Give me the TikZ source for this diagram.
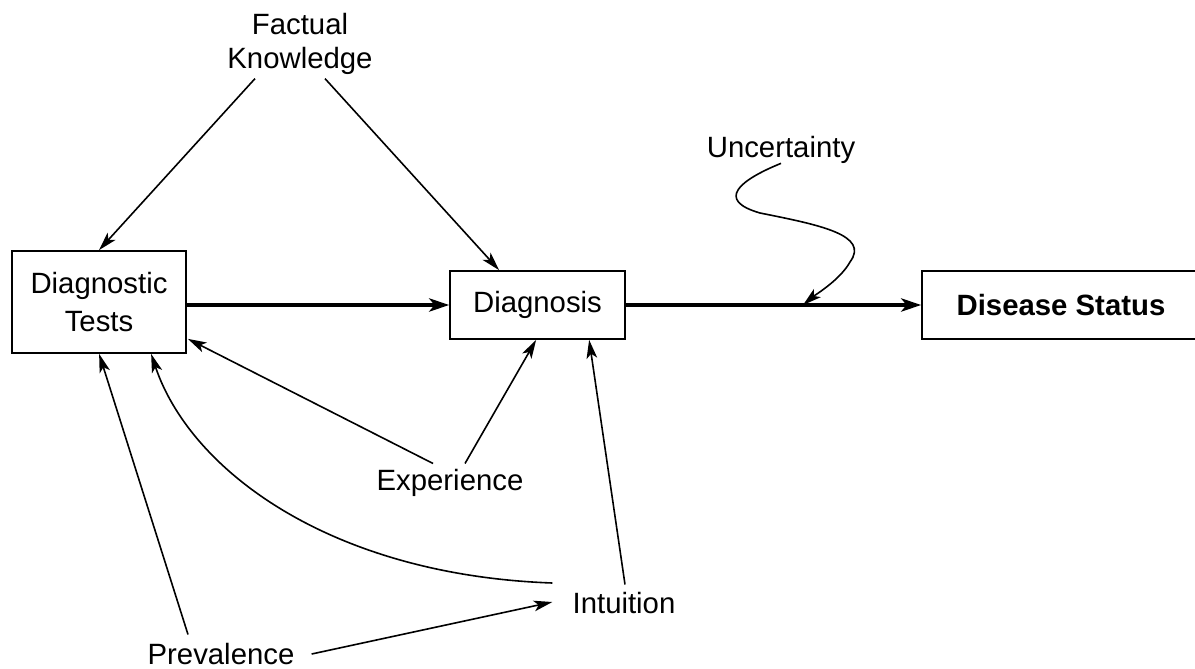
\documentclass[tikz,border=0pt]{standalone}
\usepackage{fontspec}
\setmainfont{Liberation Sans}
\usetikzlibrary{arrows.meta,calc}
\begin{document}
\begin{tikzpicture}[x=0.75pt,y=-0.75pt,
  font=\fontsize{22pt}{26pt}\selectfont,
  box/.style={draw,line width=1.3pt,inner sep=0pt,align=center},
  lbl/.style={inner sep=0pt,align=center},
  arr/.style={line width=1.2pt,-{Stealth[length=14pt,width=8pt,inset=3.5pt]}},
  bigarr/.style={line width=2.5pt,-{Stealth[length=15pt,width=10pt,inset=4pt]}}]
\useasboundingbox (0,0) rectangle (1195,668);
\fill[white] (0,0) rectangle (1195,668);
% boxes
\node[box,minimum width=130.5pt,minimum height=76.5pt,font=\fontsize{22pt}{28.5pt}\selectfont] (dt) at (99,302) {Diagnostic\\Tests};
\node[box,minimum width=131.25pt,minimum height=51pt] (diag) at (537.5,305) {Diagnosis};
\node[box,minimum width=208.5pt,minimum height=51pt,font=\fontsize{22pt}{26pt}\selectfont\bfseries] (dis) at (1061,305) {Disease Status};
% labels
\node[lbl,font=\fontsize{22pt}{25pt}\selectfont] (fk) at (300,44) {Factual\\Knowledge};
\node[lbl,anchor=base] (unc) at (781,157) {Uncertainty};
\node[lbl,anchor=base] (exp) at (450,490) {Experience};
\node[lbl,anchor=base] (int) at (624,613) {Intuition};
\node[lbl,anchor=base] (prev) at (221,664) {Prevalence};
\coordinate (uhit) at ($(diag.east)!0.6!(dis.west)$);
% connectors
\draw[arr] ($(fk.south)+(-45,4)$) -- (dt.north);
\draw[arr] ($(fk.south)+(25,4)$) -- ($(diag.north west)+(50,0)$);
\draw[bigarr] (dt.east |- diag.west) -- (diag.west);
\draw[bigarr] (diag.east) -- (dis.west);
\draw[arr] (unc.south) .. controls (740,180) and (715,200) .. (760,213)
  .. controls (820,225) and (870,235) .. (850,262)
  .. controls (840,280) and (815,295) .. (uhit);
\draw[arr] ($(exp.north)+(-17,-5)$) -- ($(dt.south east)+(1,-15)$);
\draw[arr] ($(exp.north)+(15,-5)$) -- ($(diag.south west)+(87,0)$);
\draw[arr] ($(int.north)+(1,-7)$) -- ($(diag.south west)+(140,0)$);
\draw[arr] ($(int.base west)+(-20,-30)$) .. controls (330,575) and (190,470) .. ($(dt.south west)+(140,0)$);
\draw[arr] ($(prev.north)+(-33,-8)$) -- ($(dt.south west)+(88,0)$);
\draw[arr] ($(prev.base east)+(17,-10)$) -- ($(int.base west)+(-20,-11)$);
\end{tikzpicture}
\end{document}
